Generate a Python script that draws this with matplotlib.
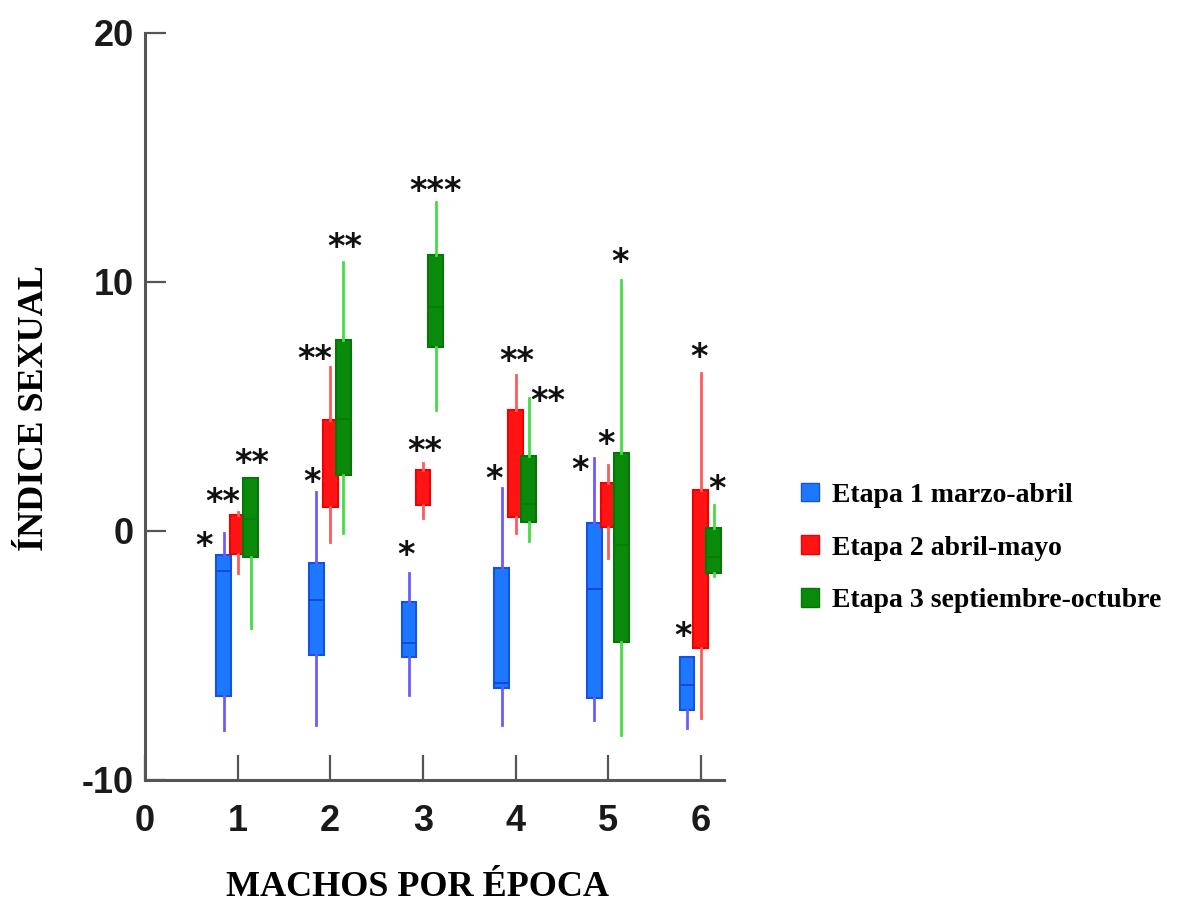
import numpy as np
import matplotlib.pyplot as plt
from matplotlib.patches import Patch
from matplotlib.ticker import FuncFormatter

machos = [1, 2, 3, 4, 5, 6]
etapas = ["Etapa 1 marzo-abril", "Etapa 2 abril-mayo", "Etapa 3 septiembre-octubre"]

# five-number summaries: whisker high, q3, median, q1, whisker low
e1_hi  = [-0.08, 1.57, -1.70, 1.73, 2.93, -5.06]
e1_q3  = [-0.96, -1.28, -2.85, -1.49, 0.32, -5.06]
e1_med = [-1.60, -2.77, -4.50, -6.10, -2.33, -6.20]
e1_q1  = [-6.63, -5.00, -5.06, -6.30, -6.70, -7.20]
e1_lo  = [-8.00, -7.80, -6.60, -7.80, -7.60, -7.90]

e2_hi  = [0.76, 6.60, 2.73, 6.27, 2.65, 6.35]
e2_q3  = [0.64, 4.46, 2.45, 4.86, 1.93, 1.65]
e2_med = [-0.20, 2.00, 1.80, 2.70, 1.00, -1.50]
e2_q1  = [-0.92, 0.96, 1.04, 0.56, 0.16, -4.70]
e2_lo  = [-1.70, -0.44, 0.52, -0.08, -1.08, -7.50]

e3_hi  = [2.13, 10.80, 13.20, 5.34, 10.08, 1.04]
e3_q3  = [2.13, 7.67, 11.10, 3.00, 3.13, 0.12]
e3_med = [0.50, 4.50, 9.00, 1.08, -0.56, -1.04]
e3_q1  = [-1.04, 2.25, 7.40, 0.36, -4.46, -1.69]
e3_lo  = [-3.90, -0.08, 4.86, -0.40, -8.20, -1.80]

e1_sig = ["*", "*", "*", "*", "*", "*"]
e2_sig = ["**", "**", "**", "**", "*", "*"]
e3_sig = ["**", "**", "***", "**", "*", "*"]

series = [
    (e1_hi, e1_q3, e1_med, e1_q1, e1_lo, e1_sig),
    (e2_hi, e2_q3, e2_med, e2_q1, e2_lo, e2_sig),
    (e3_hi, e3_q3, e3_med, e3_q1, e3_lo, e3_sig),
]

offsets = [-0.15, 0.0, 0.14]
box_fc = ["#1e78ff", "#ff1414", "#0a8a0a"]
box_ec = ["#1452e6", "#f00000", "#077507"]
whisk_c = ["#6a5cff", "#ff5a5a", "#45dd45"]
med_c = ["#0f45c8", "#ff1414", "#087a08"]
# star label offsets in pixels (dx, dy up) relative to whisker top
star_off = [
    [(-20, -14), (-4, 9), (-3, 18), (-8, 8), (-14, -12), (-4, 20)],
    [(-15, 10), (-15, 7), (2, 12), (1, 13), (-2, 21), (-2, 15)],
    [(1, 14), (2, 15), (0, 11), (19, -3), (-1, 17), (3, 16)],
]

fig = plt.figure(figsize=(11.78, 9.11), dpi=100)
ax = fig.add_axes([0.1231, 0.1438, 0.4915, 0.8200])

for k, (hi, q3, med, q1, lo, sig) in enumerate(series):
    stats = []
    for i in range(len(machos)):
        stats.append(dict(med=med[i], q1=q1[i], q3=q3[i], whislo=lo[i], whishi=hi[i], fliers=[]))
    pos = [m + offsets[k] for m in machos]
    ax.bxp(stats, positions=pos, widths=0.16, patch_artist=True, showcaps=False,
           showfliers=False, manage_ticks=False,
           boxprops=dict(facecolor=box_fc[k], edgecolor=box_ec[k], linewidth=1.5),
           whiskerprops=dict(color=whisk_c[k], linewidth=2),
           medianprops=dict(color=med_c[k], linewidth=1.2),
           zorder=3 + k)
    for i in range(len(machos)):
        dx, dy = star_off[k][i]
        ax.annotate(sig[i], xy=(pos[i], hi[i]), xytext=(dx * 0.72, dy * 0.72),
                    textcoords="offset points", ha="center", va="center",
                    fontsize=24, fontweight="bold", color="#111111", zorder=10)

ax.set_xlim(0, 6.25)
ax.set_ylim(-10, 20)
ax.set_xticks([0, 1, 2, 3, 4, 5, 6])
ax.set_yticks([-10, 0, 10, 20])
ax.yaxis.set_major_formatter(FuncFormatter(lambda v, p: "%d" % v))
for s in ["top", "right"]:
    ax.spines[s].set_visible(False)
for s in ["left", "bottom"]:
    ax.spines[s].set_color("#555555")
    ax.spines[s].set_linewidth(2.2)
ax.tick_params(axis="y", direction="in", length=15, width=1.6, color="#555555",
               pad=8, labelsize=26)
ax.tick_params(axis="x", direction="in", length=18, width=1.6, color="#555555",
               pad=17, labelsize=26)
for lab in ax.get_xticklabels() + ax.get_yticklabels():
    lab.set_fontfamily("Liberation Sans")
    lab.set_fontweight("bold")
    lab.set_color("#1a1a1a")

fig.text(418 / 1178, 1 - 887 / 911, "MACHOS POR ÉPOCA", ha="center", va="center",
         fontsize=26, fontweight="bold", family="Liberation Serif")
fig.text(35 / 1178, 1 - 408 / 911, "ÍNDICE SEXUAL", ha="center", va="center", rotation=90,
         fontsize=26, fontweight="bold", family="Liberation Serif")

handles = [Patch(facecolor=box_fc[k], edgecolor=box_ec[k]) for k in range(3)]
fig.legend(handles, etapas, loc="center left", bbox_to_anchor=(0.680, 1 - 548 / 911),
           frameon=False, handlelength=0.65, handleheight=0.65, handletextpad=0.45,
           labelspacing=1.0, borderaxespad=0, borderpad=0,
           prop=dict(family="Liberation Serif", weight="bold", size=20))

fig.savefig("out.png", dpi=100)
